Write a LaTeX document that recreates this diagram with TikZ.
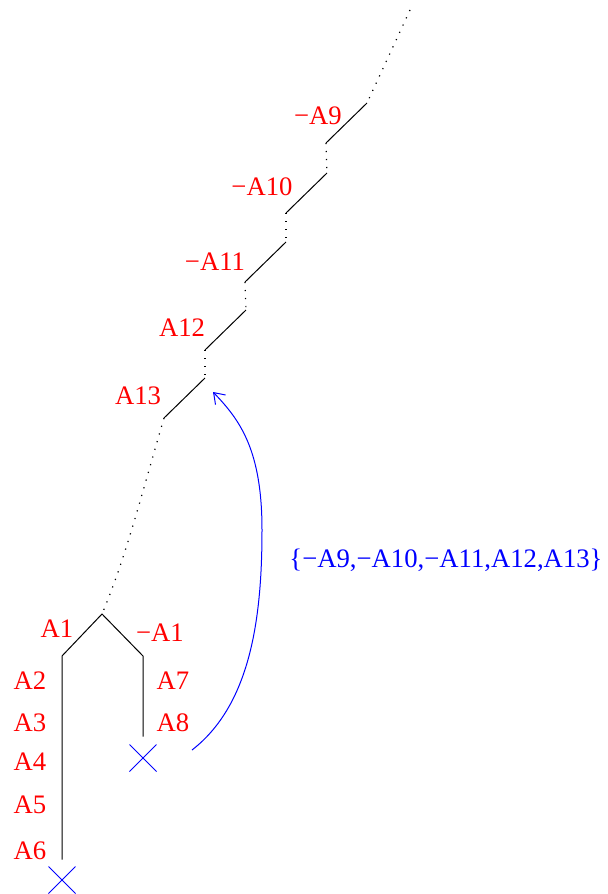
\documentclass[tikz,border=0pt]{standalone}
\usepackage{fontspec}
\setmainfont{Liberation Serif}
\usetikzlibrary{arrows.meta,shapes.misc}

\begin{document}
\begin{tikzpicture}[x=0.5pt,y=-0.5pt,
  lbl/.style={text=red,font=\fontsize{13.35}{16}\selectfont,inner sep=0pt},
  gap/.style={dash pattern=on 0.6pt off 3.4pt,line width=0.6pt},
  branch/.style={line width=0.5pt},
  fail/.style={draw=blue,cross out,minimum size=13pt,inner sep=0pt,line width=0.5pt}]
  \useasboundingbox (0,0) rectangle (607,894);
  % upper path: steps joined by gaps
  \coordinate (top) at (410,10);
  \foreach \i/\x/\y in {1/367/103,2/327/173,3/286/242,4/246/310,5/205/378} {
    \coordinate (u\i) at (\x,\y);
    \coordinate (l\i) at (\x-41,\y+40);
    \draw[branch] (u\i) -- (l\i);
  }
  \draw[gap] (top) -- (u1);
  \foreach \i/\j in {1/2,2/3,3/4,4/5}
    \draw[gap] (l\i) -- (u\j);
  \node[lbl] (m9) at (318,116) {−A9};
  \node[lbl] (m10) at (262,187) {−A10};
  \node[lbl] (m11) at (215,262) {−A11};
  \node[lbl] (p12) at (182,328) {A12};
  \node[lbl] (p13) at (138,396) {A13};

  % lower split
  \coordinate (root) at (102,614);
  \coordinate (lk) at (62,656);
  \coordinate (rk) at (143,656);
  \node[fail] (xl) at (62,880) {};
  \node[fail] (xr) at (143,758) {};
  \draw[gap] (l5) .. controls (140,500) and (125,560) .. (root);
  \draw[branch] ([yshift=3.5pt]xl.north) -- (lk) -- (root) -- (rk) -- ([yshift=4pt]xr.north);
  \node[lbl] (a1) at (57,629) {A1};
  \node[lbl] (n1) at (160,633) {−A1};
  \foreach \k/\y in {2/681,3/723,4/762,5/805,6/851}
    \node[lbl] (a\k) at (30,\y) {A\k};
  \node[lbl] (a7) at (173,681) {A7};
  \node[lbl] (a8) at (173,723) {A8};

  % jump back
  \coordinate (back) at (192,750);
  \coordinate (hit) at (213,392);
  \draw[blue,line width=0.5pt,-{Straight Barb[length=5pt,width=7pt]}]
    (back) .. controls (250,705) and (262,620) .. (262,530)
    .. controls (262,450) and (240,420) .. (hit);
  \node[lbl,text=blue] (set) at (446,560) {\{−A9,−A10,−A11,A12,A13\}};
\end{tikzpicture}
\end{document}
